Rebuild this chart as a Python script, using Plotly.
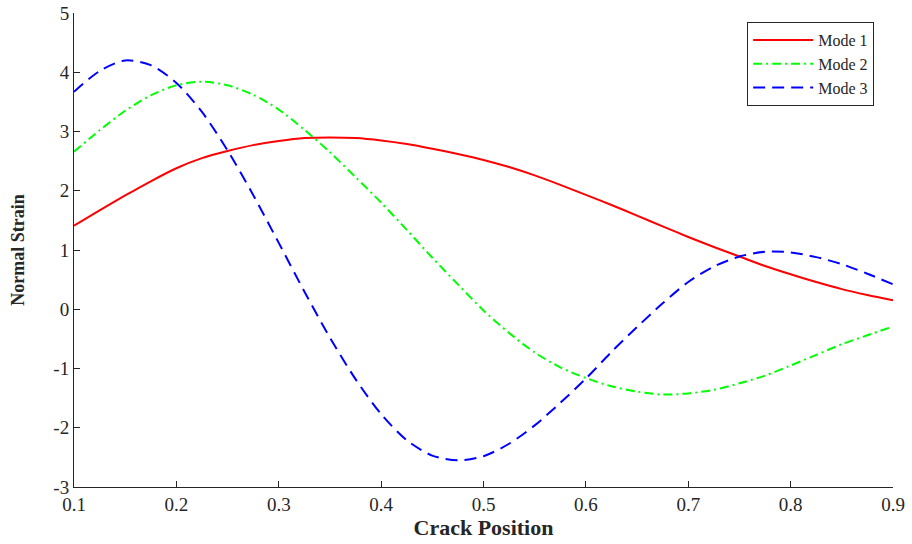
import plotly.graph_objects as go

x_pos = [0.1, 0.125, 0.15, 0.175, 0.2, 0.225, 0.25, 0.275, 0.3, 0.325, 0.35, 0.375, 0.4,
         0.425, 0.45, 0.475, 0.5, 0.525, 0.55, 0.575, 0.6, 0.625, 0.65, 0.675, 0.7, 0.725,
         0.75, 0.775, 0.8, 0.825, 0.85, 0.875, 0.9]
mode1 = [1.41, 1.67, 1.92, 2.16, 2.38, 2.55, 2.67, 2.77, 2.84, 2.89, 2.90, 2.89, 2.85,
         2.79, 2.71, 2.62, 2.52, 2.40, 2.26, 2.10, 1.93, 1.76, 1.58, 1.40, 1.22, 1.05,
         0.89, 0.73, 0.59, 0.46, 0.34, 0.24, 0.15]
mode2 = [2.66, 3.02, 3.35, 3.61, 3.78, 3.84, 3.78, 3.62, 3.37, 3.03, 2.65, 2.23, 1.80,
         1.34, 0.87, 0.42, -0.02, -0.40, -0.73, -0.98, -1.16, -1.30, -1.39, -1.44, -1.42,
         -1.36, -1.25, -1.12, -0.95, -0.77, -0.59, -0.44, -0.29]
mode3 = [3.67, 4.02, 4.20, 4.12, 3.82, 3.33, 2.68, 1.93, 1.12, 0.30, -0.48, -1.18, -1.77,
         -2.21, -2.47, -2.55, -2.48, -2.27, -1.96, -1.58, -1.17, -0.72, -0.30, 0.10, 0.46,
         0.72, 0.89, 0.97, 0.96, 0.88, 0.76, 0.60, 0.42]
series_names = ["Mode 1", "Mode 2", "Mode 3"]
x_ticks = [0.1, 0.2, 0.3, 0.4, 0.5, 0.6, 0.7, 0.8, 0.9]
x_ticklabels = ["0.1", "0.2", "0.3", "0.4", "0.5", "0.6", "0.7", "0.8", "0.9"]
y_ticks = [-3, -2, -1, 0, 1, 2, 3, 4, 5]
y_ticklabels = ["-3", "-2", "-1", "0", "1", "2", "3", "4", "5"]

FONT = "Liberation Serif"
AX = "#262626"

fig = go.Figure()
styles = [("#ff0000", "solid"), ("#00ff00", "9px,4px,2px,4px"), ("#0000ff", "12px,7px")]
for name, ys, (col, dash) in zip(series_names, [mode1, mode2, mode3], styles):
    fig.add_trace(go.Scatter(x=x_pos, y=ys, mode="lines", name=name,
                             line=dict(color=col, width=2, dash=dash, shape="spline",
                                       smoothing=0.8)))

fig.update_layout(
    width=912, height=544,
    margin=dict(l=74, r=19, t=13, b=57, autoexpand=False),
    paper_bgcolor="white", plot_bgcolor="white",
    font=dict(family=FONT, color=AX, size=18),
    showlegend=True,
    legend=dict(x=0.977, y=0.981, xanchor="right", yanchor="top",
                bgcolor="white", bordercolor="#262626", borderwidth=1,
                font=dict(family=FONT, size=16, color=AX),
                tracegroupgap=0, itemwidth=60),
    xaxis=dict(range=[0.1, 0.9], tickvals=x_ticks, ticktext=x_ticklabels,
               showgrid=False, zeroline=False, showline=True, linecolor=AX, linewidth=1,
               ticks="inside", ticklen=6, tickcolor=AX, automargin=False,
               tickfont=dict(family=FONT, size=19, color=AX),
               title=dict(text="<b>Crack Position</b>", font=dict(family=FONT, size=22, color=AX),
                          standoff=4)),
    yaxis=dict(range=[-3, 5], tickvals=y_ticks, ticktext=y_ticklabels,
               showgrid=False, zeroline=False, showline=True, linecolor=AX, linewidth=1,
               ticks="inside", ticklen=6, tickcolor=AX, automargin=False,
               tickfont=dict(family=FONT, size=19, color=AX),
               title=dict(text="<b>Normal Strain</b>", font=dict(family=FONT, size=18, color=AX),
                          standoff=24)),
)

fig.write_html("out.html")
